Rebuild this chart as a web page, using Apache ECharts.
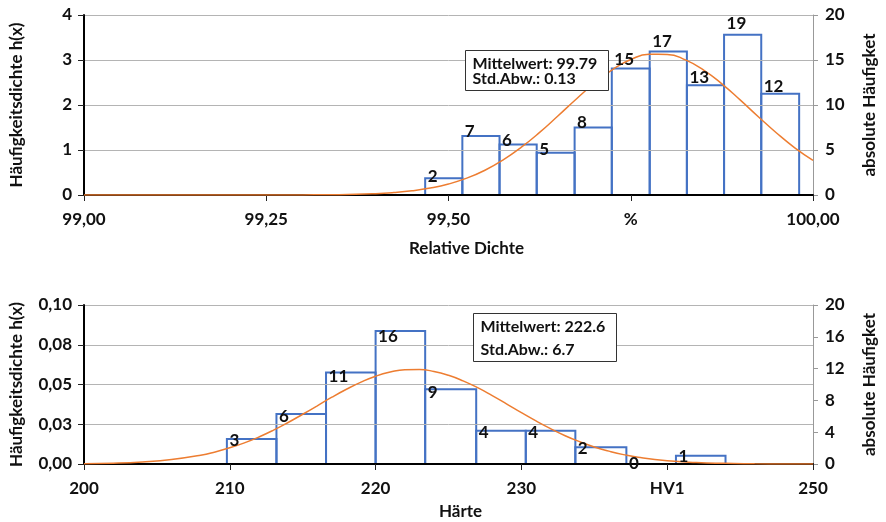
<!DOCTYPE html>
<html>
<head>
<meta charset="utf-8">
<script src="https://cdn.jsdelivr.net/npm/echarts@6/dist/echarts.min.js"></script>
<style>html,body{margin:0;padding:0;background:#fff}#c{width:886px;height:522px}</style>
</head>
<body>
<div id="c"></div>
<script>
// ---------- Top chart: Relative Dichte ----------
const topBinEdges = [99.468, 99.519, 99.570, 99.621, 99.673, 99.724, 99.776, 99.827, 99.878, 99.929, 99.981];
const topCounts = [2, 7, 6, 5, 8, 15, 17, 13, 19, 12];
const topDensity = [0.375, 1.31, 1.125, 0.94, 1.50, 2.81, 3.19, 2.44, 3.56, 2.25];
const topCurveX = [99.00, 99.10, 99.20, 99.25, 99.30, 99.35, 99.40, 99.425, 99.45, 99.475, 99.50, 99.525, 99.55, 99.575, 99.60, 99.625, 99.65, 99.675, 99.70, 99.725, 99.75, 99.775, 99.80, 99.825, 99.85, 99.875, 99.90, 99.925, 99.95, 99.975, 100.00];
const topCurveY = [0, 0, 0, 0.0001, 0.002, 0.008, 0.030, 0.054, 0.093, 0.154, 0.244, 0.374, 0.551, 0.780, 1.062, 1.391, 1.755, 2.128, 2.483, 2.787, 3.010, 3.126, 3.124, 3.002, 2.777, 2.470, 2.113, 1.740, 1.378, 1.049, 0.770];
const topXTickLabels = ['99,00', '99,25', '99,50', '%', '100,00'];
const topLeftTickLabels = ['0', '1', '2', '3', '4'];
const topRightTickLabels = ['0', '5', '10', '15', '20'];
const topStats = ['Mittelwert: 99.79', 'Std.Abw.: 0.13'];

// ---------- Bottom chart: Härte ----------
const botBinEdges = [209.8, 213.2, 216.6, 220.0, 223.4, 226.9, 230.3, 233.7, 237.2, 240.6, 244.0];
const botCounts = [3, 6, 11, 16, 9, 4, 4, 2, 0, 1];
const botDensity = [0.0157, 0.0314, 0.0575, 0.0836, 0.0470, 0.0209, 0.0209, 0.0105, 0, 0.0052];
const botCurveX = [200, 202, 204, 206, 208, 209, 210, 211, 212, 213, 214, 215, 216, 217, 218, 219, 220, 221, 222, 223, 224, 225, 226, 227, 228, 229, 230, 231, 232, 233, 234, 235, 236, 237, 238, 240, 242, 244, 246, 248, 250];
const botCurveY = [0.0002, 0.0005, 0.0013, 0.0028, 0.0055, 0.0076, 0.0102, 0.0133, 0.0170, 0.0213, 0.0261, 0.0313, 0.0366, 0.0420, 0.0470, 0.0515, 0.0552, 0.0578, 0.0593, 0.0594, 0.0582, 0.0558, 0.0523, 0.0480, 0.0430, 0.0377, 0.0323, 0.0271, 0.0222, 0.0178, 0.0140, 0.0107, 0.0081, 0.0059, 0.0042, 0.0020, 0.0009, 0.0004, 0.0001, 0.00005, 0.00001];
const botXTickLabels = ['200', '210', '220', '230', 'HV1', '250'];
const botLeftTickLabels = ['0,00', '0,03', '0,05', '0,08', '0,10'];
const botRightTickLabels = ['0', '4', '8', '12', '16', '20'];
const botStats = ['Mittelwert: 222.6', 'Std.Abw.: 6.7'];

const FONT = 'Lato';
const TXT = '#111';
const BLUE = '#4472C4';
const ORANGE = '#ED7D31';

function binData(edges, dens) {
  return dens.map((d, i) => [edges[i], edges[i + 1], d]);
}
function labelData(edges, counts) {
  return counts.map((c, i) => [edges[i], c]);
}
function pairs(xs, ys) { return xs.map((x, i) => [x, ys[i]]); }

function renderBar(params, api) {
  const p0 = api.coord([api.value(0), api.value(2)]);
  const p1 = api.coord([api.value(1), 0]);
  return {
    type: 'rect',
    shape: { x: p0[0], y: p0[1], width: p1[0] - p0[0], height: p1[1] - p0[1] },
    style: { fill: 'none', stroke: BLUE, lineWidth: 2 }
  };
}

const tickFont = { fontFamily: FONT, fontWeight: 'bold', color: TXT };

function xAxisCfg(gridIndex, min, max, interval, labels, name, gap, padLeft) {
  return {
    type: 'value', gridIndex, min, max, interval, z: 4,
    name, nameLocation: 'middle', nameGap: gap,
    nameTextStyle: { fontFamily: FONT, fontWeight: 'bold', fontSize: 17, color: TXT, padding: [0, 0, 0, padLeft] },
    axisLine: { show: true, lineStyle: { color: '#000', width: 2 } },
    axisTick: { show: true, inside: false, length: 6, lineStyle: { color: '#222', width: 1 } },
    axisLabel: Object.assign({ fontSize: 17, margin: 16, formatter: (v, i) => labels[i] }, tickFont),
    splitLine: { show: false }
  };
}
function yLeftCfg(gridIndex, min, max, interval, labels) {
  return {
    type: 'value', gridIndex, min, max, interval, position: 'left', z: 4,
    name: 'Häufigkeitsdichte h(x)', nameLocation: 'middle', nameGap: 59, nameRotate: 90,
    nameTextStyle: { fontFamily: FONT, fontWeight: 'bold', fontSize: 17, color: TXT },
    axisLine: { show: true, lineStyle: { color: '#000', width: 2 } },
    axisTick: { show: true, length: 6, lineStyle: { color: '#222', width: 1 } },
    axisLabel: Object.assign({ fontSize: 17, margin: 12, formatter: (v, i) => labels[i] }, tickFont),
    splitLine: { show: true, lineStyle: { color: '#b4b4b4', width: 1 } }
  };
}
function yRightCfg(gridIndex, min, max, interval, labels) {
  return {
    type: 'value', gridIndex, min, max, interval, position: 'right',
    name: 'absolute Häufigket', nameLocation: 'middle', nameGap: 48, nameRotate: 90,
    nameTextStyle: { fontFamily: FONT, fontWeight: 'bold', fontSize: 17, color: TXT },
    axisLine: { show: true, lineStyle: { color: '#999', width: 1 } },
    axisTick: { show: true, length: 5, lineStyle: { color: '#999', width: 1 } },
    axisLabel: Object.assign({ fontSize: 17, margin: 12, formatter: (v, i) => labels[i] }, tickFont),
    splitLine: { show: false }
  };
}

function statBox(left, top, w, h, lines, lineYs) {
  return {
    type: 'group', left, top, z: 100,
    children: [
      { type: 'rect', z: 100, shape: { x: 0, y: 0, width: w, height: h }, style: { fill: '#fff', stroke: '#333', lineWidth: 1 } },
      { type: 'text', z: 101, x: 7, y: lineYs[0], style: { text: lines[0], font: 'bold 16px Lato', fill: TXT, verticalAlign: 'middle' } },
      { type: 'text', z: 101, x: 7, y: lineYs[1], style: { text: lines[1], font: 'bold 16px Lato', fill: TXT, verticalAlign: 'middle' } }
    ]
  };
}

const labelSeries = (xi, yi, data) => ({
  type: 'scatter', xAxisIndex: xi, yAxisIndex: yi, data, symbolSize: 1, z: 7,
  itemStyle: { color: 'rgba(0,0,0,0)', opacity: 1 }, silent: true,
  label: { show: true, position: 'right', distance: 2, formatter: p => String(p.value[1]), fontFamily: FONT, fontWeight: 'bold', fontSize: 17, color: TXT, opacity: 1 }
});

const chart = echarts.init(document.getElementById('c'), null, { renderer: 'canvas' });
chart.setOption({
  animation: false,
  backgroundColor: '#fff',
  grid: [
    { left: 84, right: 66, top: 15, height: 180 },
    { left: 84, right: 66, top: 305, height: 159 }
  ],
  xAxis: [
    xAxisCfg(0, 99, 100, 0.25, topXTickLabels, 'Relative Dichte', 45, 36),
    xAxisCfg(1, 200, 250, 10, botXTickLabels, 'Härte', 39, 24)
  ],
  yAxis: [
    yLeftCfg(0, 0, 4, 1, topLeftTickLabels),
    yRightCfg(0, 0, 20, 5, topRightTickLabels),
    yLeftCfg(1, 0, 0.1, 0.025, botLeftTickLabels),
    yRightCfg(1, 0, 20, 4, botRightTickLabels)
  ],
  series: [
    { type: 'custom', xAxisIndex: 0, yAxisIndex: 0, z: 2, renderItem: renderBar, encode: { x: [0, 1], y: 2 }, data: binData(topBinEdges, topDensity) },
    { type: 'line', xAxisIndex: 0, yAxisIndex: 0, z: 6, smooth: true, showSymbol: false, lineStyle: { color: ORANGE, width: 1.5 }, data: pairs(topCurveX, topCurveY) },
    labelSeries(0, 1, labelData(topBinEdges, topCounts)),
    { type: 'custom', xAxisIndex: 1, yAxisIndex: 2, z: 2, renderItem: renderBar, encode: { x: [0, 1], y: 2 }, data: binData(botBinEdges, botDensity) },
    { type: 'line', xAxisIndex: 1, yAxisIndex: 2, z: 6, smooth: true, showSymbol: false, lineStyle: { color: ORANGE, width: 1.5 }, data: pairs(botCurveX, botCurveY) },
    labelSeries(1, 3, labelData(botBinEdges, botCounts))
  ],
  graphic: [
    statBox(465, 50, 143, 40, topStats, [13, 28]),
    statBox(473, 313, 143, 48, botStats, [13, 36])
  ]
});
</script>
</body>
</html>
